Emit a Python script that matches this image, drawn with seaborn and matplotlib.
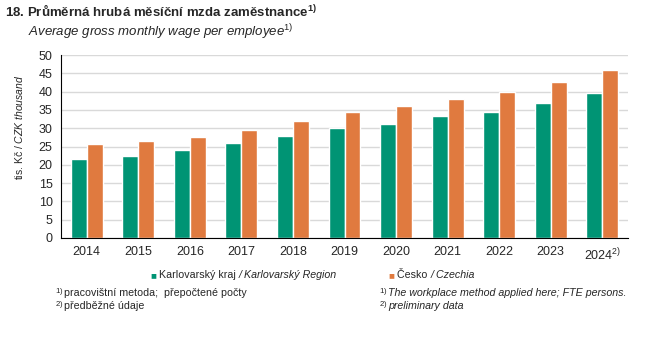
import numpy as np
import pandas as pd
import matplotlib.pyplot as plt
import seaborn as sns

# Data (thousand CZK)
years = ['2014', '2015', '2016', '2017', '2018', '2019', '2020', '2021', '2022', '2023', '2024']
karlovarsky = [21.7, 22.5, 24.0, 25.9, 28.0, 30.1, 31.2, 33.2, 34.5, 37.0, 39.6]
cesko = [25.6, 26.6, 27.6, 29.6, 32.0, 34.4, 36.0, 38.1, 40.0, 42.7, 45.8]
series_names = ['Karlovarský kraj', 'Česko']

df = pd.DataFrame({
    'year': years * 2,
    'value': karlovarsky + cesko,
    'series': [series_names[0]] * len(years) + [series_names[1]] * len(years),
})

sns.set_style('white')
plt.rcParams['font.family'] = ['Liberation Sans', 'DejaVu Sans']
plt.rcParams['mathtext.fontset'] = 'custom'
plt.rcParams['mathtext.rm'] = 'Liberation Sans'
plt.rcParams['mathtext.it'] = 'Liberation Sans:italic'
plt.rcParams['mathtext.bf'] = 'Liberation Sans:bold'

colors = ['#009474', '#E07A3F']
W, H = 652, 352

fig = plt.figure(figsize=(6.52, 3.52), dpi=100)
ax = fig.add_axes([61 / W, 1 - 238 / H, 567 / W, 183 / H])

sns.barplot(data=df, x='year', y='value', hue='series', palette=colors,
            width=0.62, gap=0, saturation=1, ax=ax, legend=False)

ax.set_ylim(0, 50)
ax.set_yticks(np.arange(0, 51, 5))
ax.set_xlim(-0.5, len(years) - 0.5)
ax.yaxis.grid(True, color='#d9d9d9', linewidth=1)
ax.set_axisbelow(True)
for s in ['top', 'right']:
    ax.spines[s].set_visible(False)
for s in ['left', 'bottom']:
    ax.spines[s].set_color('black')
    ax.spines[s].set_linewidth(0.8)

labels = years[:-1] + [r'2024$^{2)}$']
ax.set_xticks(range(len(years)))
ax.set_xticklabels(labels, fontsize=9)
ax.tick_params(axis='x', which='major', length=0, pad=6)
ax.set_xticks(np.arange(-0.5, len(years), 1), minor=True)
ax.tick_params(axis='x', which='minor', length=4, direction='out', color='black')
ax.tick_params(axis='y', length=4, direction='out', color='black', labelsize=9, pad=2)
ax.set_xlabel('')
ax.set_ylabel('tis. Kč / $\\it{CZK\\ thousand}$', fontsize=7.5)
ax.yaxis.set_label_coords(-0.063, 0.607)

# titles
fig.text(5 / W, 1 - 16 / H, r'18. Průměrná hrubá měsíční mzda zaměstnance$^{\mathbf{1)}}$',
         fontsize=9.5, fontweight='bold', va='baseline')
fig.text(28 / W, 1 - 36 / H, r'Average gross monthly wage per employee$^{\it{1)}}$',
         fontsize=9.5, style='italic', va='baseline')

renderer = fig.canvas.get_renderer()


def text_row(x, y, pieces, size=7.7):
    """Place text pieces one after another starting at pixel x, centre y."""
    for txt, kw in pieces:
        t = fig.text(x / W, 1 - y / H, txt, fontsize=kw.pop('fontsize', size),
                     va='center', **kw)
        x += t.get_window_extent(renderer).width + kw.get('gap', 0)


# legend
text_row(150, 275, [('■', dict(color=colors[0], fontsize=7)), (' Karlovarský kraj ', {}),
                    ('/ Karlovarský Region', dict(style='italic'))])
text_row(388, 275, [('■', dict(color=colors[1], fontsize=7)), (' Česko ', {}),
                    ('/ Czechia', dict(style='italic'))])

# footnotes
text_row(55, 293, [(r'$^{1)}$ ', dict(fontsize=8)), ('pracovištní metoda;  přepočtené počty', {})])
text_row(55, 306, [(r'$^{2)}$ ', dict(fontsize=8)), ('předběžné údaje', {})])
text_row(379, 293, [(r'$^{1)}$ ', dict(fontsize=8)),
                    ('The workplace method applied here; FTE persons.', dict(style='italic'))])
text_row(379, 306, [(r'$^{2)}$ ', dict(fontsize=8)), ('preliminary data', dict(style='italic'))])

fig.savefig('out.png', dpi=100)
